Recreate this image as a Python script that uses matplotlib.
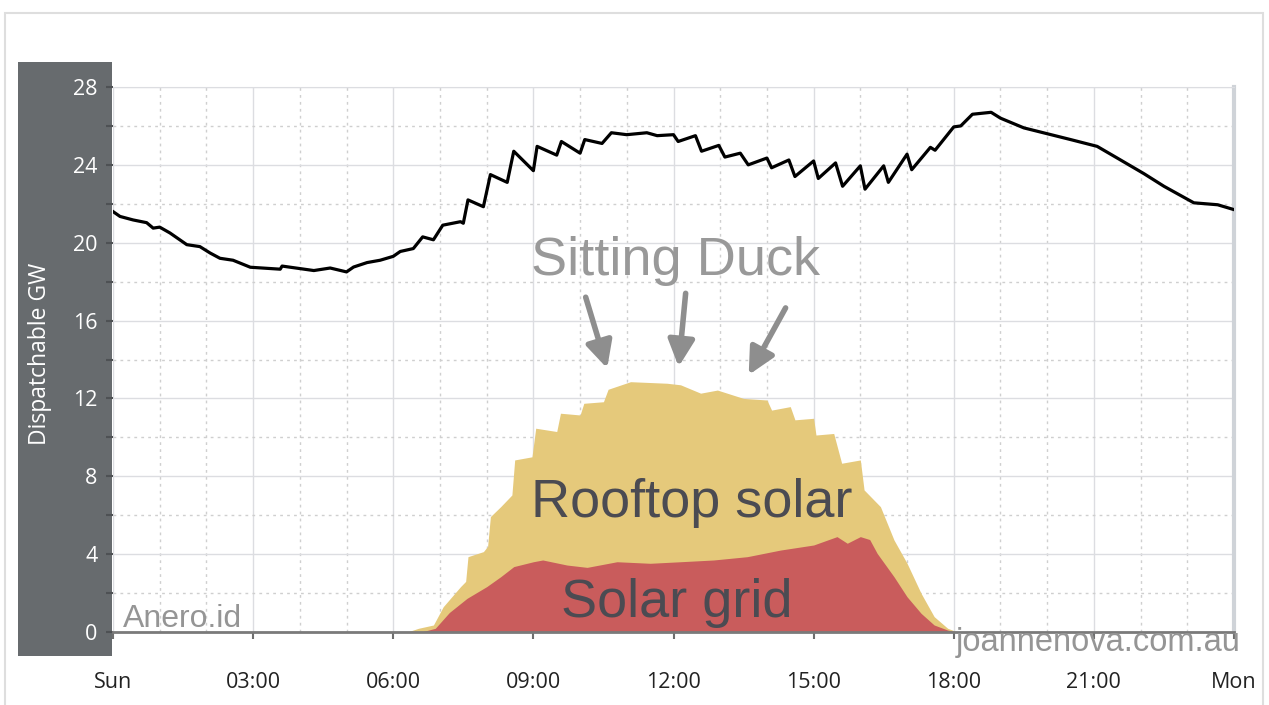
import matplotlib
matplotlib.use('Agg')
import matplotlib.pyplot as plt
from matplotlib.patches import Rectangle

W, H = 1269, 705

# Dispatchable generation (black line), GW by hour of day
line_hours = [0, 0.15, 0.43, 0.72, 0.86, 1.0, 1.22, 1.58, 1.86, 2.08, 2.29,
              2.57, 2.94, 3.58, 3.62, 4.3, 4.65, 5.0, 5.15, 5.44, 5.72, 6.0,
              6.15, 6.43, 6.63, 6.86, 7.06, 7.44, 7.5, 7.6, 7.93, 8.08, 8.44,
              8.58, 9.0, 9.08, 9.5, 9.6, 10.0, 10.1, 10.47, 10.67, 11.0,
              11.43, 11.65, 12.0, 12.1, 12.47, 12.6, 12.97, 13.1, 13.43,
              13.6, 14.0, 14.1, 14.47, 14.6, 15.0, 15.1, 15.47, 15.62, 16.0,
              16.1, 16.5, 16.6, 17.0, 17.1, 17.5, 17.6, 18.0, 18.15, 18.4,
              18.8, 19.0, 19.5, 20.0, 20.5, 21.07, 21.5, 22.07, 22.5, 23.14,
              23.65, 24.0]
line_gw = [21.6, 21.35, 21.17, 21.03, 20.75, 20.8, 20.5, 19.9, 19.8, 19.47,
           19.2, 19.1, 18.74, 18.64, 18.8, 18.57, 18.7, 18.5, 18.75, 18.98,
           19.1, 19.3, 19.55, 19.7, 20.3, 20.15, 20.9, 21.08, 21.0, 22.2,
           21.85, 23.5, 23.1, 24.7, 23.7, 24.95, 24.5, 25.2, 24.6, 25.3,
           25.1, 25.65, 25.55, 25.65, 25.5, 25.55, 25.2, 25.5, 24.7, 25.0,
           24.4, 24.6, 24.0, 24.35, 23.85, 24.25, 23.4, 24.2, 23.3, 24.1,
           22.9, 23.95, 22.75, 23.95, 23.1, 24.55, 23.75, 24.9, 24.75, 25.95,
           26.0, 26.6, 26.7, 26.4, 25.9, 25.6, 25.3, 24.95, 24.35, 23.55,
           22.9, 22.05, 21.95, 21.7]

# Top of the solar stack (grid + rooftop), GW
total_hours = [6.3, 6.54, 6.86, 7.07, 7.44, 7.55, 7.6, 7.93, 8.02, 8.08,
               8.3, 8.54, 8.6, 8.97, 9.05, 9.5, 9.58, 10.0, 10.08, 10.5,
               10.6, 11.08, 11.86, 12.15, 12.58, 12.94, 13.5, 14.0, 14.1,
               14.5, 14.6, 15.0, 15.05, 15.43, 15.6, 16.0, 16.08, 16.43,
               16.72, 17.0, 17.3, 17.58, 17.87, 18.0, 18.1]
total_gw = [0.0, 0.19, 0.36, 1.3, 2.33, 2.6, 3.87, 4.13, 4.4, 5.93, 6.44,
            7.04, 8.84, 9.0, 10.47, 10.3, 11.24, 11.15, 11.75, 11.83, 12.47,
            12.86, 12.78, 12.7, 12.27, 12.43, 12.0, 11.92, 11.4, 11.58, 10.9,
            10.98, 10.12, 10.2, 8.67, 8.84, 7.3, 6.44, 4.73, 3.53, 1.99,
            0.79, 0.19, 0.07, 0.0]

# Grid-scale solar, GW
grid_hours = [6.6, 6.9, 7.2, 7.58, 8.0, 8.3, 8.58, 9.0, 9.2, 9.72, 10.15,
              10.79, 11.5, 12.15, 12.86, 13.58, 14.29, 15.0, 15.5, 15.72,
              16.0, 16.2, 16.36, 16.72, 17.0, 17.3, 17.58, 17.87, 18.05]
grid_gw = [0.0, 0.19, 1.0, 1.73, 2.33, 2.84, 3.36, 3.61, 3.7, 3.44, 3.32,
           3.61, 3.53, 3.61, 3.7, 3.87, 4.21, 4.47, 4.9, 4.56, 4.9, 4.75,
           4.04, 2.84, 1.81, 0.96, 0.36, 0.1, 0.0]

x_ticks = [0, 3, 6, 9, 12, 15, 18, 21, 24]
x_labels = ['Sun', '03:00', '06:00', '09:00', '12:00', '15:00', '18:00',
            '21:00', 'Mon']

fig = plt.figure(figsize=(W / 100, H / 100), dpi=100)

# card and dark y-axis panel
fig.add_artist(Rectangle((5 / W, -0.05), 1258 / W, 1 - 13 / H + 0.05,
                         transform=fig.transFigure, facecolor='white',
                         edgecolor='#dedede', lw=1.5, zorder=-3))
fig.add_artist(Rectangle((18 / W, 49 / H), 94 / W, 594 / H,
                         transform=fig.transFigure, facecolor='#676b6e',
                         edgecolor='none', zorder=-1))

ax = fig.add_axes([113 / W, 73 / H, 1121 / W, 545 / H])
ax.set_facecolor('white')

ax.fill_between(total_hours, 0, total_gw, color='#e5c97b', lw=0, zorder=2)
ax.fill_between(grid_hours, 0, grid_gw, color='#c95c5c', lw=0, zorder=3)
ax.plot(line_hours, line_gw, color='black', lw=2.3, zorder=5,
        solid_joinstyle='round')

ax.set_xlim(0, 24)
ax.set_ylim(0, 28)
ax.set_xticks(x_ticks)
ax.set_xticklabels(x_labels)
ax.set_xticks(range(25), minor=True)
ax.set_yticks(range(0, 29, 4))
ax.set_yticks(range(0, 29, 2), minor=True)

ax.grid(which='major', color='#dcdde1', lw=1.0, ls='-', zorder=0)
ax.grid(which='minor', color='#cfcfcf', lw=1.0, ls=(0, (2, 3)), zorder=0)
ax.set_axisbelow(True)

ax.tick_params(axis='x', which='major', length=5, width=1.5, color='#6e6e6e',
               pad=24, labelcolor='#222222')
ax.tick_params(axis='x', which='minor', length=0)
ax.tick_params(axis='y', which='both', length=5, width=1.5, color='#4e5154',
               pad=6, labelcolor='white')
for lab in ax.get_xticklabels() + ax.get_yticklabels():
    lab.set_fontfamily('Open Sans')
    lab.set_fontsize(15.5)

ax.spines['left'].set_visible(False)
ax.spines['bottom'].set_color('#7a7a7a')
ax.spines['bottom'].set_linewidth(2)
ax.spines['bottom'].set_zorder(6)
ax.spines['top'].set_color('#dcdde1')
ax.spines['right'].set_color('#cfd3d8')
ax.spines['right'].set_linewidth(3)

fig.text(40 / W, 1 - 354 / H, 'Dispatchable GW', rotation=90, color='white',
         fontsize=16.5, family='Open Sans', ha='center', va='center')

big = {'family': 'Liberation Sans', 'size': 39}
ax.text(12.04, 18.35, 'Sitting Duck', color='#999999', ha='center',
        va='baseline', zorder=7, **big)
ax.text(12.4, 5.93, 'Rooftop solar', color='#4b4b52', ha='center',
        va='baseline', zorder=7, **big)
ax.text(12.07, 0.77, 'Solar grid', color='#4b4b52', ha='center',
        va='baseline', zorder=7, **big)
ax.text(0.21, 0.26, 'Anero.id', color='#959595', ha='left', va='baseline',
        family='Liberation Sans', size=23, zorder=7)
ax.text(18.04, -1.0, 'joannenova.com.au', color='#959595', ha='left',
        va='baseline', family='Liberation Sans', size=23.5, zorder=7,
        clip_on=False)

arrows = [((10.12, 17.2), (10.58, 13.55)),
          ((12.26, 17.4), (12.11, 13.63)),
          ((14.4, 16.65), (13.61, 13.21))]
for tail, tip in arrows:
    ax.annotate('', xy=tip, xytext=tail, zorder=7,
                arrowprops=dict(arrowstyle='-|>', color='#8e8e8e', lw=4,
                                mutation_scale=40, shrinkA=0, shrinkB=0))

fig.savefig('out.png', dpi=100)
